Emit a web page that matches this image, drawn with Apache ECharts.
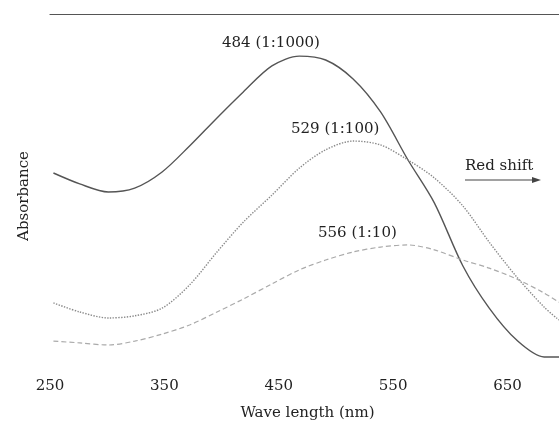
<!DOCTYPE html>
<html>
<head>
<meta charset="utf-8">
<script src="https://cdn.jsdelivr.net/npm/echarts@6/dist/echarts.min.js"></script>
<style>
    html, body { margin: 0; padding: 0; background: #fff; }
    #chart { width: 559px; height: 427px; }
</style>
</head>
<body>
<div id="chart"></div>
<script>
// wavelength (nm)
const wavelengths = [253, 276, 301, 324, 348, 372, 396, 419, 444, 468, 491, 515, 539, 563, 586, 611, 634, 658, 682, 695];
// absorbance, relative units
const dil1000 = [0.547, 0.516, 0.493, 0.504, 0.550, 0.624, 0.704, 0.778, 0.852, 0.880, 0.869, 0.815, 0.721, 0.584, 0.462, 0.282, 0.162, 0.071, 0.023, 0.023];
const dil100 = [0.177, 0.151, 0.134, 0.140, 0.162, 0.228, 0.322, 0.407, 0.484, 0.561, 0.613, 0.638, 0.627, 0.584, 0.533, 0.453, 0.350, 0.251, 0.165, 0.128];
const dil10 = [0.068, 0.063, 0.057, 0.068, 0.088, 0.114, 0.151, 0.188, 0.231, 0.271, 0.299, 0.322, 0.336, 0.342, 0.328, 0.299, 0.276, 0.245, 0.205, 0.179];
const xTicks = [250, 350, 450, 550, 650];

const serif = '"DejaVu Serif", "Liberation Serif", serif';

function pairs(ys) {
    return wavelengths.map(function (x, i) { return [x, ys[i]]; });
}

let chart = echarts.init(document.getElementById('chart'));
let option = {
    animation: false,
    grid: { left: 50, right: 0, top: 14, bottom: 62 },
    xAxis: [
        {
            type: 'value',
            min: 250,
            max: 695,
            interval: 100,
            name: 'Wave length (nm)',
            nameLocation: 'middle',
            nameGap: 41,
            nameTextStyle: { fontFamily: serif, fontSize: 15, color: '#222', padding: [0, 0, 0, 6] },
            axisLine: { show: false },
            axisTick: { show: false },
            splitLine: { show: false },
            axisLabel: {
                fontFamily: serif,
                fontSize: 15,
                color: '#222',
                margin: 14,
                showMaxLabel: false,
                formatter: function (v) {
                    return xTicks.indexOf(v) >= 0 ? String(v) : '';
                }
            }
        },
        {
            type: 'value',
            position: 'top',
            min: 250,
            max: 695,
            axisLine: { show: true, onZero: false, lineStyle: { color: '#555', width: 1.2 } },
            axisTick: { show: false },
            axisLabel: { show: false },
            splitLine: { show: false }
        }
    ],
    yAxis: {
        type: 'value',
        min: 0,
        max: 1,
        axisLine: { show: false },
        axisTick: { show: false },
        axisLabel: { show: false },
        splitLine: { show: false }
    },
    series: [
        {
            name: '484 (1:1000)',
            type: 'line',
            smooth: 0.3,
            symbol: 'none',
            data: pairs(dil1000),
            lineStyle: { color: '#555', width: 1.4, type: 'solid' }
        },
        {
            name: '529 (1:100)',
            type: 'line',
            smooth: 0.3,
            symbol: 'none',
            data: pairs(dil100),
            lineStyle: { color: '#8a8a8a', width: 1.4, type: 'dotted' }
        },
        {
            name: '556 (1:10)',
            type: 'line',
            smooth: 0.3,
            symbol: 'none',
            data: pairs(dil10),
            lineStyle: { color: '#aaa', width: 1.2, type: [5, 3] }
        }
    ],
    graphic: [
        {
            type: 'text', x: 24, y: 196, rotation: Math.PI / 2,
            style: { text: 'Absorbance', font: '15px ' + serif, fill: '#222', align: 'center', verticalAlign: 'middle' }
        },
        { type: 'text', left: 222, top: 36, style: { text: '484 (1:1000)', font: '15px ' + serif, fill: '#222' } },
        { type: 'text', left: 291, top: 122, style: { text: '529 (1:100)', font: '15px ' + serif, fill: '#222' } },
        { type: 'text', left: 318, top: 226, style: { text: '556 (1:10)', font: '15px ' + serif, fill: '#222' } },
        { type: 'text', left: 465, top: 159, style: { text: 'Red shift', font: '15px ' + serif, fill: '#222' } },
        { type: 'line', shape: { x1: 465, y1: 180, x2: 533, y2: 180 }, style: { stroke: '#444', lineWidth: 1.2 } },
        { type: 'polygon', shape: { points: [[541, 180], [532, 177], [532, 183]] }, style: { fill: '#444' } }
    ]
};
chart.setOption(option);
</script>
</body>
</html>
